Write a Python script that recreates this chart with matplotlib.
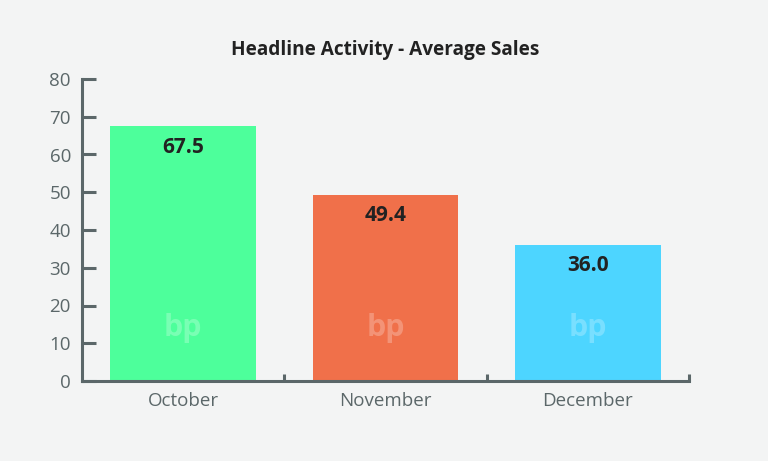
import numpy as np
import matplotlib.pyplot as plt

months = ['October', 'November', 'December']
avg_sales = [67.5, 49.4, 36.0]
bar_colors = ['#4dff9b', '#f0704a', '#4dd5ff']
yticks = [0, 10, 20, 30, 40, 50, 60, 70, 80]

bg = '#f3f4f4'
axis_col = '#5b6769'

plt.rcParams['font.family'] = ['Open Sans', 'DejaVu Sans']

fig = plt.figure(figsize=(7.68, 4.61), dpi=100, facecolor=bg)
ax = fig.add_axes([82 / 768, 1 - 381 / 461, 607 / 768, 302 / 461])
ax.set_facecolor(bg)

x = np.arange(len(months))
bars = ax.bar(x, avg_sales, width=0.72, color=bar_colors, zorder=2)

for xi, v in zip(x, avg_sales):
    ax.annotate(f'{v:.1f}', (xi, v), xytext=(0, -15), textcoords='offset points',
                ha='center', va='center', fontsize=15, fontweight='bold', color='#222222')
    # faint watermark
    ax.text(xi, 14, 'bp', ha='center', va='center', fontsize=22, fontweight='bold',
            color='white', alpha=0.25, zorder=3)

ax.set_xlim(-0.5, 2.5)
ax.set_ylim(0, 80)
ax.set_yticks(yticks)
ax.set_xticks(x)
ax.set_xticklabels(months)
ax.set_xticks([0.5, 1.5, 2.5], minor=True)

for s in ['top', 'right']:
    ax.spines[s].set_visible(False)
for s in ['left', 'bottom']:
    ax.spines[s].set_color(axis_col)
    ax.spines[s].set_linewidth(2.2)
    ax.spines[s].set_zorder(4)

ax.tick_params(axis='y', direction='in', length=10, width=2.2, color=axis_col,
               labelsize=13.5, labelcolor=axis_col, pad=8)
ax.tick_params(axis='x', which='major', length=0, labelsize=13.5, labelcolor=axis_col, pad=8)
ax.tick_params(axis='x', which='minor', direction='in', length=5, width=2.2, color=axis_col)

ax.set_title('Headline Activity - Average Sales', fontsize=13.7, fontweight='bold',
             color='#222222', pad=17)

fig.savefig('out.png', dpi=100, facecolor=bg)
